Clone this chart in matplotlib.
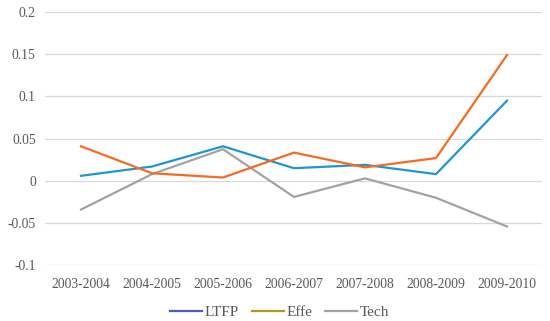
import matplotlib.pyplot as plt
from matplotlib.lines import Line2D

# datos
periods = ["2003-2004", "2004-2005", "2005-2006", "2006-2007",
           "2007-2008", "2008-2009", "2009-2010"]
ltfp = [0.006, 0.017, 0.041, 0.015, 0.019, 0.008, 0.095]
effe = [0.041, 0.009, 0.004, 0.0335, 0.016, 0.027, 0.149]
tech = [-0.034, 0.008, 0.0375, -0.019, 0.003, -0.020, -0.054]
yticks = [-0.1, -0.05, 0, 0.05, 0.1, 0.15, 0.2]
ytick_labels = ["-0.1", "-0.05", "0", "0.05", "0.1", "0.15", "0.2"]

plt.rcParams['font.family'] = ['Liberation Serif', 'DejaVu Serif']

fig = plt.figure(figsize=(5.5, 3.21), dpi=100)
ax = fig.add_axes([0.0827, 0.1735, 0.9036, 0.789])

x = list(range(len(periods)))
ax.plot(x, ltfp, color="#1f96d2", linewidth=1.6, zorder=3)
ax.plot(x, effe, color="#f76a22", linewidth=1.6, zorder=3)
ax.plot(x, tech, color="#a3a3a3", linewidth=1.6, zorder=2)

ax.set_xlim(-0.5, len(periods) - 0.5)
ax.set_ylim(-0.1, 0.2)
ax.set_xticks(x)
ax.set_xticklabels(periods)
ax.set_yticks(yticks)
ax.set_yticklabels(ytick_labels)
ax.tick_params(length=0, labelsize=9.8, labelcolor="#595959", pad=7)
ax.tick_params(axis="x", pad=9)
ax.grid(axis="y", color="#d9d9d9", linewidth=0.9)
ax.set_axisbelow(True)
for s in ax.spines.values():
    s.set_visible(False)

# leyenda con los colores que aparecen en la imagen
handles = [Line2D([], [], color="#4a5fc4", linewidth=1.6),
           Line2D([], [], color="#b59a1a", linewidth=1.6),
           Line2D([], [], color="#a3a3a3", linewidth=1.6)]
fig.legend(handles, ["LTFP", "Effe", "Tech"], loc="center",
           bbox_to_anchor=(0.508, 0.028), ncol=3, frameon=False,
           fontsize=11, labelcolor="#595959", handlelength=2.1,
           handletextpad=0.15, columnspacing=0.85, borderpad=0)

fig.savefig("out.png", dpi=100)
